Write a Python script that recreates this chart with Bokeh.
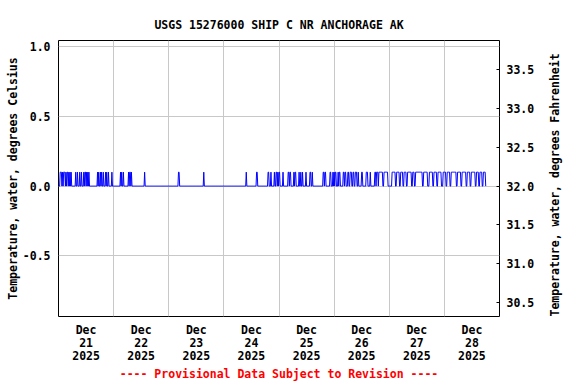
import numpy as np
from bokeh.plotting import figure
from bokeh.models import Range1d, LinearAxis, FixedTicker, PrintfTickFormatter, ColumnDataSource
from bokeh.embed import file_html
from bokeh.resources import INLINE

# ---------------- data ----------------
title_text = "USGS 15276000 SHIP C NR ANCHORAGE AK"
left_label = "Temperature, water, degrees Celsius"
right_label = "Temperature, water, degrees Fahrenheit"
footer_text = "---- Provisional Data Subject to Revision ----"

# x in hours since Dec 21 2025 00:00
day_centers = [12, 36, 60, 84, 108, 132, 156, 180]
day_labels = ["Dec\n21\n2025", "Dec\n22\n2025", "Dec\n23\n2025", "Dec\n24\n2025",
              "Dec\n25\n2025", "Dec\n26\n2025", "Dec\n27\n2025", "Dec\n28\n2025"]
midnights = [24, 48, 72, 96, 120, 144, 168]
c_ticks = [-0.5, 0.0, 0.5, 1.0]
f_ticks = [30.5, 31.0, 31.5, 32.0, 32.5, 33.0, 33.5]

# 15-minute readings: value is 0.0 except during these runs at 0.1 degC
high_value = 0.1
high_start = [0.75, 1.0, 1.75, 2.25, 3.25, 3.75, 4.5, 5.0, 5.5,
              7.5, 8.25, 9.25, 10.0, 11.0, 11.5, 12.25, 12.75, 13.25,
              17.0, 17.5, 18.25, 18.75, 19.5, 20.5, 21.0, 21.75, 23.25,
              27.0, 27.5, 28.25, 30.5, 31.0, 31.75, 37.5,
              52.25, 63.25,
              81.75, 86.25, 91.25, 92.5, 94.0, 94.75, 95.5,
              96.0, 97.75, 100.0, 100.75, 102.5, 103.0, 104.75, 105.5, 106.25, 107.75,
              109.5, 110.5, 115.25, 116.0, 118.25,
              119.5, 120.0, 120.5, 121.75, 122.25, 124.0, 124.75, 126.0, 127.0, 128.25,
              129.25, 130.5, 132.0, 134.0, 135.75, 137.75, 138.5,
              139.5, 141.75, 145.25, 147.25, 149.0, 150.5, 152.0, 154.25, 155.5, 159.0,
              161.5, 163.5, 165.25, 167.5, 169.25, 171.0, 173.75, 175.75, 178.0, 179.75,
              182.0, 183.5, 185.0]
high_len = [1, 2, 1, 3, 1, 2, 1, 1, 1,
            1, 1, 1, 1, 1, 2, 1, 1, 1,
            1, 1, 1, 1, 1, 1, 1, 1, 1,
            1, 1, 1, 1, 2, 1, 1,
            2, 1,
            1, 2, 2, 1, 1, 2, 1,
            2, 1, 2, 2, 1, 2, 1, 1, 1, 1,
            2, 1, 2, 2, 2,
            1, 1, 2, 1, 2, 2, 2, 2, 3, 2,
            3, 1, 2, 3, 1, 2, 3,
            7, 7, 6, 5, 4, 4, 7, 3, 12, 7,
            6, 5, 6, 5, 5, 9, 6, 7, 5, 7,
            4, 4, 4]
last_hour = 186.0
step_hours = 0.25

t = np.arange(0, last_hour + step_hours / 2, step_hours)
v = np.zeros_like(t)
for s, n in zip(high_start, high_len):
    i = int(round(s / step_hours))
    v[i:i + n] = high_value

src = ColumnDataSource(dict(t=t, v=v))

# ---------------- figure ----------------
FONT = "DejaVu Sans Mono"
FS = "11.5px"

c_lo, c_hi = -0.936, 1.045
p = figure(width=576, height=384, x_range=Range1d(0, 192), y_range=Range1d(c_lo, c_hi),
           output_backend="svg", toolbar_location=None,
           min_border_left=58, min_border_right=77, min_border_top=40, min_border_bottom=68)
p.extra_y_ranges = {"F": Range1d(32 + 1.8 * c_lo, 32 + 1.8 * c_hi)}

p.outline_line_color = "black"
p.outline_line_width = 1
p.outline_line_alpha = 1
p.background_fill_color = "white"
p.border_fill_color = "white"

p.line("t", "v", source=src, line_color="#0000ff", line_width=1)

# grids
p.xgrid.ticker = FixedTicker(ticks=midnights)
p.ygrid.ticker = FixedTicker(ticks=c_ticks)
for g in (p.xgrid, p.ygrid):
    g.grid_line_color = "#c8c8c8"
    g.grid_line_width = 1

# x axis (footer note as its axis label)
xa = p.xaxis[0]
xa.ticker = FixedTicker(ticks=day_centers)
xa.major_label_overrides = {c: lab for c, lab in zip(day_centers, day_labels)}
xa.major_tick_line_color = None
xa.minor_tick_line_color = None
xa.axis_line_color = None
xa.major_label_standoff = 0
xa.major_label_text_line_height = 0.95
xa.axis_label = footer_text
xa.axis_label_standoff = 1

# left axis
ya = p.yaxis[0]
ya.ticker = FixedTicker(ticks=c_ticks)
ya.formatter = PrintfTickFormatter(format="%.1f")
ya.major_tick_in = 0
ya.major_tick_out = 0
ya.minor_tick_line_color = None
ya.axis_line_color = None
ya.major_label_standoff = 8
ya.axis_label = left_label
ya.axis_label_standoff = 0

# right axis
ra = LinearAxis(y_range_name="F", ticker=FixedTicker(ticks=f_ticks),
                formatter=PrintfTickFormatter(format="%.1f"))
ra.major_tick_in = 3
ra.major_tick_out = 0
ra.major_tick_line_color = "black"
ra.minor_tick_line_color = None
ra.axis_line_color = None
ra.major_label_standoff = 7
ra.axis_label = right_label
ra.axis_label_standoff = 18
ra.axis_label_orientation = np.pi / 2
ra.axis_label_align = "start"
p.add_layout(ra, "right")

for ax in (xa, ya, ra):
    ax.major_label_text_font = FONT
    ax.major_label_text_font_style = "bold"
    ax.major_label_text_font_size = FS
    ax.major_label_text_color = "black"
    ax.axis_label_text_font = FONT
    ax.axis_label_text_font_style = "bold"
    ax.axis_label_text_font_size = FS
    ax.axis_label_text_color = "black"
xa.axis_label_text_color = "#ff0000"

# title
p.title.text = title_text
p.title.align = "center"
p.title.text_font = FONT
p.title.text_font_style = "bold"
p.title.text_font_size = FS
p.title.text_color = "black"
p.title.standoff = 17

open("out.html", "w").write(file_html(p, INLINE))
